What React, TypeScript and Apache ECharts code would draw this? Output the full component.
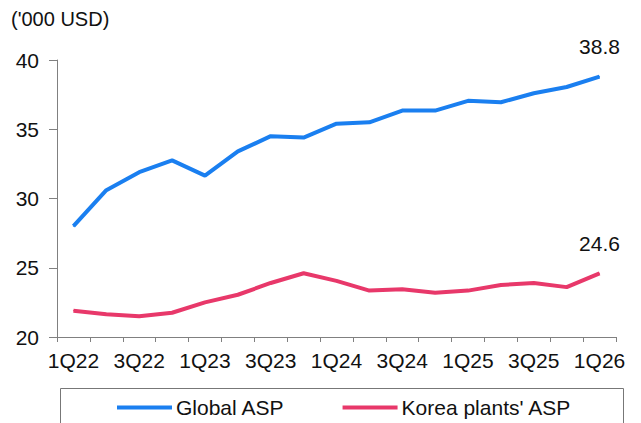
import React, { useEffect, useRef } from "react";
import * as echarts from "echarts";

const categories = [
  "1Q22", "2Q22", "3Q22", "4Q22",
  "1Q23", "2Q23", "3Q23", "4Q23",
  "1Q24", "2Q24", "3Q24", "4Q24",
  "1Q25", "2Q25", "3Q25", "4Q25",
  "1Q26",
];
const globalASP = [28.0, 30.6, 31.9, 32.75, 31.65, 33.4, 34.5, 34.4, 35.4, 35.5, 36.35, 36.35, 37.05, 36.95, 37.6, 38.05, 38.8];
const koreaASP = [21.9, 21.65, 21.5, 21.75, 22.5, 23.05, 23.9, 24.6, 24.05, 23.35, 23.45, 23.2, 23.35, 23.75, 23.9, 23.6, 24.6];
const yTicks = [20, 25, 30, 35, 40];
const unitLabel = "('000 USD)";
const seriesNames = ["Global ASP", "Korea plants' ASP"];
const colors = ["#1a7ff0", "#e8386a"];

const FONT = "'Liberation Sans', Arial, sans-serif";

export default function App() {
  const ref = useRef<HTMLDivElement>(null);
  useEffect(() => {
    if (!ref.current) return;
    const chart = echarts.init(ref.current, null, { renderer: "svg" });
    const lastLabel = (arr: number[]) =>
      arr.map((v, i) =>
        i === arr.length - 1
          ? {
              value: v,
              label: {
                show: true,
                position: "top",
                distance: 19,
                formatter: (p: any) => Number(p.value).toFixed(1),
                color: "#111",
                fontSize: 21,
                fontFamily: FONT,
              },
            }
          : v
      );
    chart.setOption({
      animation: false,
      textStyle: { fontFamily: FONT },
      grid: { left: 57, right: 25, top: 60, bottom: 86, containLabel: false },
      graphic: [
        {
          type: "text",
          left: 11,
          top: 9,
          style: { text: unitLabel, fontSize: 20, fontFamily: FONT, fill: "#111" },
        },
        {
          type: "rect",
          shape: { x: 60.5, y: 388.5, width: 563, height: 60 },
          style: { fill: "none", stroke: "#777", lineWidth: 1 },
        },
      ],
      legend: {
        left: 117,
        top: 397,
        padding: 0,
        itemWidth: 55,
        itemHeight: 4,
        itemGap: 58,
        icon: "rect",
        textStyle: { fontSize: 21, fontFamily: FONT, color: "#111", padding: [0, 0, 0, -1] },
        data: seriesNames,
      },
      xAxis: {
        type: "category",
        data: categories,
        boundaryGap: true,
        axisLine: { lineStyle: { color: "#808080", width: 1 } },
        axisTick: { show: true, length: 5, interval: 0, lineStyle: { color: "#808080" } },
        axisLabel: {
          interval: 1,
          margin: 13,
          fontSize: 21,
          color: "#111",
          fontFamily: FONT,
        },
      },
      yAxis: {
        type: "value",
        min: yTicks[0],
        max: yTicks[yTicks.length - 1],
        interval: 5,
        splitLine: { show: false },
        axisLine: { show: true, lineStyle: { color: "#808080", width: 1 } },
        axisTick: { show: true, length: 8, lineStyle: { color: "#808080" } },
        axisLabel: {
          margin: 18,
          fontSize: 21,
          color: "#111",
          fontFamily: FONT,
        },
      },
      series: [
        {
          name: seriesNames[0],
          type: "line",
          data: lastLabel(globalASP),
          symbol: "circle",
          symbolSize: 1,
          showSymbol: true,
          lineStyle: { color: colors[0], width: 4 },
          itemStyle: { color: colors[0] },
        },
        {
          name: seriesNames[1],
          type: "line",
          data: lastLabel(koreaASP),
          symbol: "circle",
          symbolSize: 1,
          showSymbol: true,
          lineStyle: { color: colors[1], width: 4 },
          itemStyle: { color: colors[1] },
        },
      ],
    });
    return () => chart.dispose();
  }, []);
  return (
    <div
      ref={ref}
      style={{ position: "absolute", left: 0, top: 0, width: 641, height: 423 }}
    />
  );
}
